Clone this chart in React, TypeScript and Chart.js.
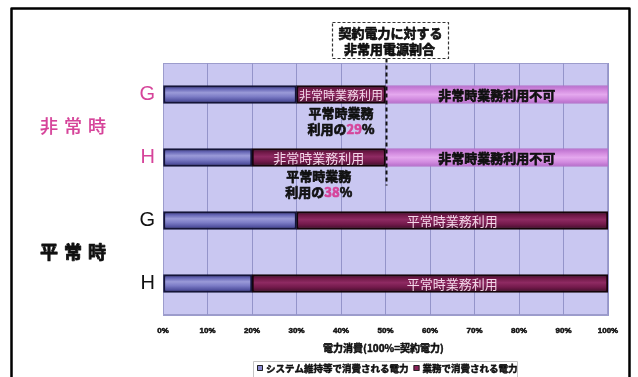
import React, { useEffect, useRef } from "react";
import { Chart, registerables } from "chart.js";

Chart.register(...registerables);

// Rows of the chart (top to bottom) and the two operating modes they belong to
const rows = ["G", "H", "G", "H"];
const modes = ["非常時", "平常時"];
const modeRows = [[0, 1], [2, 3]];

// Share of contract power (%) for each row
const systemPower = [30, 20, 30, 20];
const businessPower = [20, 30, 70, 80];
const unavailablePower: (number | null)[] = [50, 50, null, null];

// In-bar labels
const businessLabels = ["非常時業務利用", "非常時業務利用", "平常時業務利用", "平常時業務利用"];
const unavailableLabel = "非常時業務利用不可";
const normalLabelAt = 65;

// Axis and annotation texts
const xTickValues = [0, 10, 20, 30, 40, 50, 60, 70, 80, 90, 100];
const axisTitle = "電力消費(100%=契約電力)";
const contractShare = 50;
const contractCaption = ["契約電力に対する", "非常用電源割合"];
const shareCaption = ["平常時業務", "利用の", "%"];
const legendLabels = ["システム維持等で消費される電力", "業務で消費される電力"];

const FONT = "'Liberation Sans', 'Noto Sans CJK JP', sans-serif";
const JP = "'Noto Sans CJK JP', 'Liberation Sans', sans-serif";
const PINK = "#d6449a";
const BAR = 18;

type Stop = [number, string];
const blueStops: Stop[] = [[0, "#2a2a66"], [0.18, "#6464b4"], [0.4, "#9a9ad8"], [0.62, "#7c7cc6"], [0.85, "#5252a0"], [1, "#2a2a66"]];
const wineStops: Stop[] = [[0, "#3c0c26"], [0.2, "#6e1846"], [0.45, "#8e2a62"], [0.7, "#741a4c"], [1, "#3c0c26"]];
const lilacStops: Stop[] = [[0, "#b86ccc"], [0.3, "#d690e2"], [0.5, "#e4a8ee"], [0.75, "#d28ce0"], [1, "#b46ac8"]];

const cylinder = (stops: Stop[]) => (ctx: any) => {
  const chart = ctx.chart;
  const y = chart.scales && chart.scales.y;
  const fallback = stops[Math.floor(stops.length / 2)][1];
  if (ctx.type !== "data" || !y || !chart.chartArea) return fallback;
  const yc = y.getPixelForValue(ctx.dataIndex);
  if (!isFinite(yc)) return fallback;
  const g = chart.ctx.createLinearGradient(0, yc - BAR / 2, 0, yc + BAR / 2);
  stops.forEach(([o, c]) => g.addColorStop(o, c));
  return g;
};

// heavy text: fill plus a thin stroke in the same colour
function heavy(ctx: CanvasRenderingContext2D, text: string, x: number, y: number, color: string, w = 0.7) {
  ctx.fillStyle = color;
  ctx.strokeStyle = color;
  ctx.lineWidth = w;
  ctx.lineJoin = "round";
  ctx.fillText(text, x, y);
  ctx.strokeText(text, x, y);
}

const backdrop = {
  id: "backdrop",
  beforeDraw(chart: any) {
    const { ctx, chartArea: a, width, height } = chart;
    ctx.save();
    ctx.fillStyle = "#ffffff";
    ctx.fillRect(0, 0, width, height);
    ctx.fillStyle = "#c9c7f1";
    ctx.fillRect(a.left, a.top, a.right - a.left, a.bottom - a.top);
    ctx.strokeStyle = "#9c9ccc";
    ctx.lineWidth = 1;
    ctx.strokeRect(a.left + 0.5, a.top + 0.5, a.right - a.left - 1, a.bottom - a.top - 1);
    ctx.restore();
  },
};

const decorations = {
  id: "decorations",
  afterDraw(chart: any) {
    const { ctx, scales } = chart;
    const xs = scales.x;
    const ys = scales.y;
    const bizMeta = chart.getDatasetMeta(1).data;
    const offMeta = chart.getDatasetMeta(2).data;
    ctx.save();
    ctx.textAlign = "center";
    ctx.textBaseline = "middle";

    // x tick labels, heavy
    ctx.font = `bold 8px ${FONT}`;
    xTickValues.forEach((v) => heavy(ctx, `${v}%`, xs.getPixelForValue(v), 331, "#111", 0.5));

    // labels inside the business segments
    bizMeta.forEach((el: any, i: number) => {
      const w = Math.abs(el.x - el.base);
      const emergency = unavailablePower[i] != null;
      const cx = emergency ? (el.x + el.base) / 2 : xs.getPixelForValue(normalLabelAt);
      const size = emergency ? Math.min(13, w / 7.4) : 13;
      ctx.font = `${size}px ${JP}`;
      ctx.fillStyle = "#f3d6e8";
      ctx.fillText(businessLabels[i], cx, el.y + 1);

      if (emergency) {
        // share of normal-time business that stays available
        const pct = Math.round((businessPower[i] / (businessPower[i] + (unavailablePower[i] as number))) * 100);
        ctx.font = `bold 13px ${JP}`;
        heavy(ctx, shareCaption[0], cx, el.y + 19, "#111");
        const a = shareCaption[1];
        const b = String(pct);
        const c = shareCaption[2];
        const wa = ctx.measureText(a).width;
        const wb = ctx.measureText(b).width;
        const wc = ctx.measureText(c).width;
        const x0 = cx - (wa + wb + wc) / 2;
        ctx.textAlign = "left";
        heavy(ctx, a, x0, el.y + 35, "#111");
        heavy(ctx, b, x0 + wa, el.y + 35, PINK);
        heavy(ctx, c, x0 + wa + wb, el.y + 35, "#111");
        ctx.textAlign = "center";
      }
    });

    // labels inside the unavailable segments
    offMeta.forEach((el: any, i: number) => {
      if (unavailablePower[i] == null) return;
      ctx.font = `bold 13px ${JP}`;
      heavy(ctx, unavailableLabel, (el.x + el.base) / 2, el.y + 1, "#111");
    });

    // contract power line with its caption box
    const lx = Math.round(xs.getPixelForValue(contractShare)) + 0.5;
    const boxW = 116;
    const boxTop = 22.5;
    const boxBottom = 58.5;
    ctx.strokeStyle = "#111";
    ctx.lineWidth = 2;
    ctx.setLineDash([4, 3]);
    ctx.beginPath();
    ctx.moveTo(lx, boxBottom);
    ctx.lineTo(lx, ys.getPixelForValue(1) + 28);
    ctx.stroke();
    ctx.lineWidth = 1.2;
    ctx.setLineDash([3, 2]);
    ctx.strokeStyle = "#333";
    const bx = lx + 3 - boxW / 2;
    ctx.strokeRect(Math.round(bx) + 0.5, boxTop, boxW, boxBottom - boxTop);
    ctx.setLineDash([]);
    ctx.font = `bold 13px ${JP}`;
    heavy(ctx, contractCaption[0], bx + boxW / 2 + 1, 33, "#111");
    heavy(ctx, contractCaption[1], bx + boxW / 2, 49, "#111");

    // mode labels on the left
    modes.forEach((m, k) => {
      const yc = (ys.getPixelForValue(modeRows[k][0]) + ys.getPixelForValue(modeRows[k][1])) / 2;
      ctx.font = `${k === 0 ? "500" : "bold"} 18px ${JP}`;
      Array.from(m).forEach((ch, j) =>
        heavy(ctx, ch, 49 + j * 24, yc, k === 0 ? PINK : "#111", k === 0 ? 0.2 : 0.8)
      );
    });

    // x axis title
    ctx.font = `bold 10px ${JP}`;
    heavy(ctx, axisTitle, (xs.left + xs.right) / 2 - 2, 348, "#111", 0.5);

    // legend
    ctx.strokeStyle = "#c4c4c4";
    ctx.lineWidth = 1;
    ctx.strokeRect(253.5, 361.5, 264, 20);
    ctx.font = `bold 9.5px ${JP}`;
    ctx.textAlign = "left";
    const swatches = ["#8a8ad0", "#8a2058"];
    let lxp = 257;
    legendLabels.forEach((t, i) => {
      ctx.fillStyle = swatches[i];
      ctx.fillRect(lxp, 365, 6, 6);
      ctx.strokeStyle = "#222";
      ctx.lineWidth = 1;
      ctx.strokeRect(lxp + 0.5, 365.5, 5, 5);
      heavy(ctx, t, lxp + 9, 368.5, "#111", 0.5);
      lxp += 9 + ctx.measureText(t).width + 5;
    });

    // outer frame
    ctx.strokeStyle = "#000";
    ctx.lineWidth = 2.5;
    ctx.beginPath();
    ctx.moveTo(11.5, 380);
    ctx.lineTo(11.5, 8.5);
    ctx.lineTo(629.5, 8.5);
    ctx.lineTo(629.5, 380);
    ctx.stroke();
    ctx.restore();
  },
};

export default function App() {
  const canvasRef = useRef<HTMLCanvasElement | null>(null);

  useEffect(() => {
    if (!canvasRef.current) return;
    Chart.defaults.font.family = FONT;
    const common = { barThickness: BAR, borderSkipped: false as const };
    const chart = new Chart(canvasRef.current, {
      type: "bar",
      data: {
        labels: rows,
        datasets: [
          { label: legendLabels[0], data: systemPower, backgroundColor: cylinder(blueStops), borderColor: "#141438", borderWidth: 2, ...common },
          { label: legendLabels[1], data: businessPower, backgroundColor: cylinder(wineStops), borderColor: "#140408", borderWidth: 2, ...common },
          { label: unavailableLabel, data: unavailablePower, backgroundColor: cylinder(lilacStops), borderColor: "#b472c8", borderWidth: 1, ...common },
        ],
      },
      options: {
        indexAxis: "y",
        responsive: false,
        animation: false,
        layout: { padding: { top: 63, right: 30, left: 0, bottom: 0 } },
        plugins: { legend: { display: false }, tooltip: { enabled: false } },
        scales: {
          x: {
            type: "linear",
            stacked: true,
            min: 0,
            max: 100,
            afterBuildTicks: (s: any) => {
              s.ticks = xTickValues.map((v) => ({ value: v }));
            },
            afterFit: (s: any) => {
              s.height = 62;
            },
            // tick labels are painted by the decorations plugin
            ticks: { display: false },
            grid: { color: "#9494ca", lineWidth: 1, drawTicks: false },
            border: { display: true, color: "#9c9ccc" },
          },
          y: {
            type: "category",
            stacked: true,
            afterFit: (s: any) => {
              s.width = 163;
            },
            ticks: {
              font: { size: 20, family: FONT },
              color: (c: any) => (c.index < 2 ? PINK : "#111"),
              padding: 8,
            },
            grid: { display: false, drawTicks: false },
            border: { display: true, color: "#9c9ccc" },
          },
        },
      },
      plugins: [backdrop, decorations],
    });
    return () => chart.destroy();
  }, []);

  return (
    <div style={{ position: "fixed", left: 0, top: 0, width: 638, height: 377, background: "#fff" }}>
      <canvas ref={canvasRef} width={638} height={377} style={{ display: "block", width: 638, height: 377 }} />
    </div>
  );
}
